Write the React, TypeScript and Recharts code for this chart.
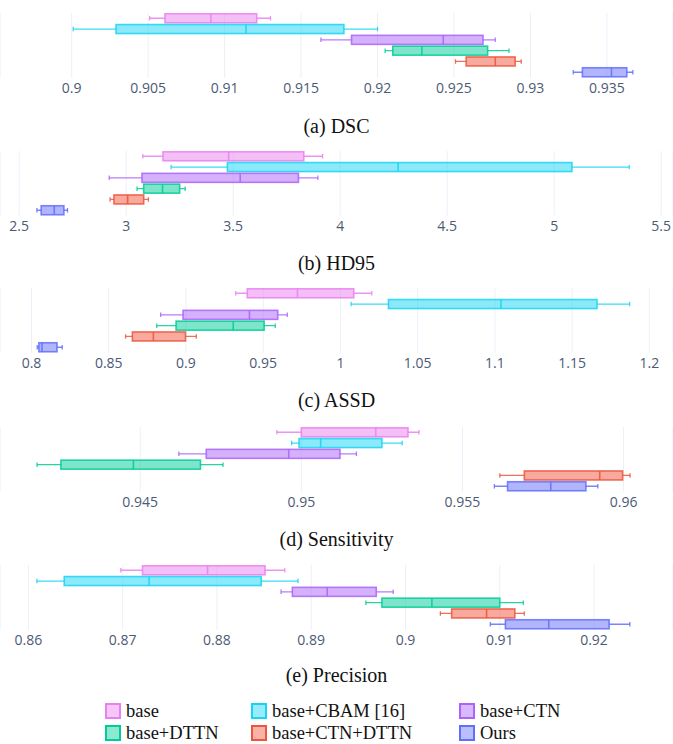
import React from 'react'
import { ComposedChart, Bar, XAxis, YAxis, CartesianGrid } from 'recharts'

const methods = ['base', 'base+CBAM [16]', 'base+CTN', 'base+DTTN', 'base+CTN+DTTN', 'Ours']

// each row: [lower whisker, q1, median, q3, upper whisker]
const dscStats = [
  [0.9051, 0.9061, 0.9091, 0.9121, 0.913],
  [0.9001, 0.9029, 0.9114, 0.9178, 0.92],
  [0.9163, 0.9183, 0.9243, 0.9269, 0.9277],
  [0.9205, 0.921, 0.9229, 0.9272, 0.9286],
  [0.9251, 0.9258, 0.9277, 0.929, 0.9294],
  [0.9328, 0.9334, 0.9353, 0.9363, 0.9367],
]
const hd95Stats = [
  [3.078, 3.172, 3.479, 3.83, 3.918],
  [3.21, 3.473, 4.271, 5.083, 5.351],
  [2.921, 3.074, 3.533, 3.805, 3.896],
  [3.051, 3.082, 3.17, 3.25, 3.276],
  [2.925, 2.943, 3.007, 3.082, 3.104],
  [2.583, 2.603, 2.664, 2.709, 2.726],
]
const assdStats = [
  [0.9322, 0.9397, 0.9722, 1.0086, 1.0203],
  [1.0069, 1.0311, 1.1039, 1.1661, 1.1872],
  [0.8836, 0.8981, 0.9411, 0.9594, 0.9656],
  [0.8811, 0.8936, 0.9306, 0.9506, 0.9578],
  [0.8609, 0.8653, 0.8789, 0.8997, 0.9067],
  [0.8037, 0.8048, 0.8068, 0.8165, 0.8199],
]
const sensStats = [
  [0.94924, 0.95, 0.95231, 0.95331, 0.95365],
  [0.9497, 0.94993, 0.9506, 0.9525, 0.95313],
  [0.9462, 0.94705, 0.94961, 0.9512, 0.95171],
  [0.9418, 0.94254, 0.94479, 0.94687, 0.94757],
  [0.95616, 0.95692, 0.95926, 0.95997, 0.9602],
  [0.95599, 0.9564, 0.95774, 0.95883, 0.9592],
]
const precStats = [
  [0.8698, 0.8721, 0.879, 0.8851, 0.8872],
  [0.8609, 0.8638, 0.8728, 0.8847, 0.8886],
  [0.8868, 0.888, 0.8917, 0.8969, 0.8987],
  [0.8958, 0.8975, 0.9028, 0.91, 0.9125],
  [0.9037, 0.9049, 0.9086, 0.9116, 0.9126],
  [0.909, 0.9106, 0.9152, 0.9216, 0.9238],
]

const dscTicks = [0.9, 0.905, 0.91, 0.915, 0.92, 0.925, 0.93, 0.935]
const hd95Ticks = [2.5, 3, 3.5, 4, 4.5, 5, 5.5]
const assdTicks = [0.8, 0.85, 0.9, 0.95, 1, 1.05, 1.1, 1.15, 1.2]
const sensTicks = [0.945, 0.95, 0.955, 0.96]
const precTicks = [0.86, 0.87, 0.88, 0.89, 0.9, 0.91, 0.92]

const COLORS = ['#ea80f0', '#19d3f3', '#ab63fa', '#00cc96', '#ef553b', '#636efa']

const panels = [
  { caption: '(a) DSC', stats: dscStats, ticks: dscTicks, domain: [0.895311, 0.939324], top: 18.7, capY: 126 },
  { caption: '(b) HD95', stats: hd95Stats, ticks: hd95Ticks, domain: [2.4105, 5.5554], top: 156.7, capY: 263 },
  { caption: '(c) ASSD', stats: assdStats, ticks: assdTicks, domain: [0.77961, 1.21529], top: 293.8, capY: 400 },
  { caption: '(d) Sensitivity', stats: sensStats, ticks: sensTicks, domain: [0.94065, 0.961533], top: 432.7, capY: 539 },
  { caption: '(e) Precision', stats: precStats, ticks: precTicks, domain: [0.856987, 0.928378], top: 570.7, capY: 675 },
]

const BoxShape = (props: any) => {
  const { x, y, width, height, payload, index } = props
  const [lo, q1, med, q3, hi] = payload.stats
  const k = width / (hi - lo)
  const px = (v: number) => x + (v - lo) * k
  const cy = y + height / 2
  const c = COLORS[index]
  const cap = height * 0.25
  return (
    <g strokeOpacity={0.85}>
      <line x1={px(lo)} x2={px(q1)} y1={cy} y2={cy} stroke={c} strokeWidth={1.3} />
      <line x1={px(q3)} x2={px(hi)} y1={cy} y2={cy} stroke={c} strokeWidth={1.3} />
      <line x1={px(lo)} x2={px(lo)} y1={cy - cap} y2={cy + cap} stroke={c} strokeWidth={1.3} />
      <line x1={px(hi)} x2={px(hi)} y1={cy - cap} y2={cy + cap} stroke={c} strokeWidth={1.3} />
      <rect x={px(q1)} y={y} width={px(q3) - px(q1)} height={height} fill={c} fillOpacity={0.5} stroke={c} strokeWidth={1.6} />
      <line x1={px(med)} x2={px(med)} y1={y} y2={y + height} stroke={c} strokeWidth={1.6} />
    </g>
  )
}

function BoxPanel({ p }: { p: any }) {
  const rows = methods.map((name, i) => ({ name, stats: p.stats[i] }))
  return (
    <>
      <div style={{ position: 'absolute', left: 0, top: p.top - 5.4, width: 673, height: 95 }}>
        <ComposedChart
          width={673}
          height={95}
          data={rows}
          layout="vertical"
          margin={{ top: 0, right: 0, bottom: 0, left: 0 }}
          barCategoryGap="7%"
        >
          <CartesianGrid horizontal={false} stroke="#ebf0f8" />
          <XAxis
            type="number"
            domain={p.domain}
            allowDataOverflow
            ticks={p.ticks}
            interval={0}
            axisLine={false}
            tickLine={false}
            tickSize={3}
            tickMargin={2}
            height={30.2}
            tickFormatter={(v) => String(v)}
            tick={{ fill: '#4b5a75', fontSize: 14, fontFamily: 'Open Sans' }}
          />
          <YAxis type="category" dataKey="name" hide />
          <Bar
            dataKey={(d: any) => [d.stats[0], d.stats[4]]}
            shape={<BoxShape />}
            isAnimationActive={false}
          />
        </ComposedChart>
      </div>
      <div
        style={{
          position: 'absolute', left: 0, width: 673, top: p.capY - 12, height: 24,
          lineHeight: '24px', textAlign: 'center', fontSize: 20, color: '#111',
          fontFamily: '"Liberation Serif", "Times New Roman", serif',
        }}
      >
        {p.caption}
      </div>
    </>
  )
}

const legendCols = [105, 251, 459]
const legendRows = [711, 733]

export default function App() {
  return (
    <div style={{ position: 'absolute', left: 0, top: 0, width: 673, height: 744, background: '#fff', overflow: 'hidden' }}>
      {panels.map((p) => (
        <BoxPanel key={p.caption} p={p} />
      ))}
      {methods.map((m, i) => {
        const left = legendCols[i % 3]
        const cy = legendRows[Math.floor(i / 3)]
        const c = COLORS[i]
        return (
          <div key={m} style={{ position: 'absolute', left, top: cy - 11, height: 22, display: 'flex', alignItems: 'center' }}>
            <svg width={16} height={16} style={{ marginRight: 5 }}>
              <rect x={1} y={1} width={14} height={14} fill={c} fillOpacity={0.45} stroke={c} strokeWidth={2} />
            </svg>
            <span style={{ fontSize: 18.5, fontFamily: '"Liberation Serif", "Times New Roman", serif', color: '#111', lineHeight: '22px' }}>
              {m}
            </span>
          </div>
        )
      })}
    </div>
  )
}
